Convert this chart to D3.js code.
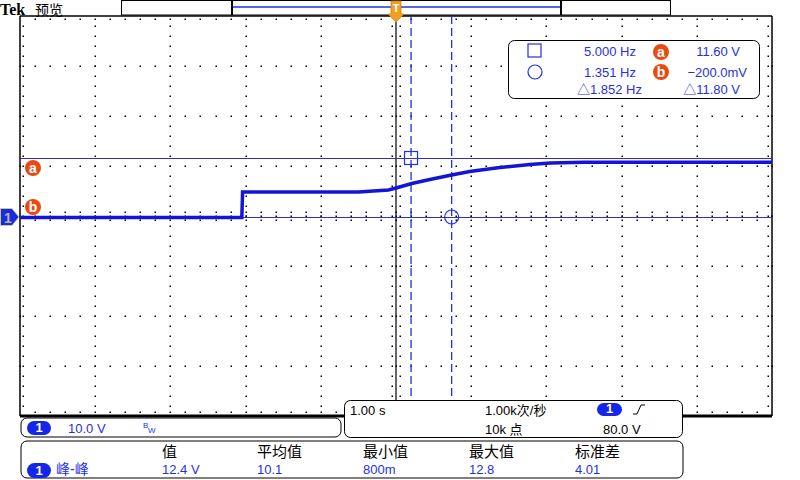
<!DOCTYPE html>
<html>
<head>
<meta charset="utf-8">
<script src="https://cdn.jsdelivr.net/npm/d3@7"></script>
<style>
  body { margin: 0; background: #fff; }
  svg { display: block; }
  text { font-family: "Liberation Sans", "Noto Sans CJK SC", sans-serif; }
</style>
</head>
<body>
<div id="scope"></div>
<script>
// screen dimensions
var W = 800, H = 480;
var gLeft = 20, gRight = 772, gTop = 16, gBottom = 416;

// trace: time (s) and volts
var traceT = [-5, -2.05, -2.04, -0.5, -0.1, 0, 0.21, 0.45, 0.74, 0.98, 1.38, 1.78, 2.05, 2.5, 5];
var traceV = [-0.3, -0.3, 4.8, 4.8, 5.2, 5.6, 6.5, 7.3, 8.2, 8.9, 9.7, 10.3, 10.6, 10.75, 10.75];

// cursors
var cursorTimes = [0.2, 0.74];        // 5.000 Hz, 1.351 Hz
var cursorVolts = [11.6, -0.2];       // a, b

// readout text
var readLeft = ["5.000 Hz", "1.351 Hz", "\u25B31.852 Hz"];
var readRight = ["11.60 V", "\u2212200.0mV", "\u25B311.80 V"];

// measurement table
var measHeads = ["值", "平均值", "最小值", "最大值", "标准差"];
var measVals = ["12.4 V", "10.1", "800m", "12.8", "4.01"];

var blue = "#1f30e6", trace = "#1414d8", orange = "#e84a10";

var svg = d3.select("#scope").append("svg")
    .attr("width", W).attr("height", H);

// time axis 1 s/div, 10 divisions; volts 10 V/div, 8 divisions
var x = d3.scaleLinear().domain([-5, 5]).range([gLeft, gRight]);
var y = d3.scaleLinear().domain([-40, 40]).range([gBottom, gTop]);

function dot(g, dx, dy) {
    g.append("rect").attr("x", Math.round(dx) - 0.5).attr("y", Math.round(dy) - 0.5)
        .attr("width", 1.5).attr("height", 1.5);
}

// grid dots
var grid = svg.append("g").attr("fill", "#000");
d3.range(-4, 4.01, 1).forEach(function(t) {
    if (t === 0) return;
    d3.range(-38, 38.01, 2).forEach(function(v) { dot(grid, x(t), y(v)); });
});
d3.range(-30, 30.1, 10).forEach(function(v) {
    d3.range(-5, 5.001, 0.2).forEach(function(t) { dot(grid, x(t), y(v)); });
});
// edge and center ticks
d3.range(-4.8, 4.801, 0.2).forEach(function(t) {
    dot(grid, x(t), gTop + 3);
    dot(grid, x(t), gBottom - 4);
    dot(grid, x(t), y(0) - 4);
    dot(grid, x(t), y(0) + 4);
});
d3.range(-38, 38.01, 2).forEach(function(v) {
    dot(grid, gLeft + 3, y(v));
    dot(grid, gRight - 4, y(v));
    dot(grid, x(0) - 4, y(v));
    dot(grid, x(0) + 4, y(v));
});

// center vertical line
svg.append("line").attr("x1", x(0)).attr("x2", x(0)).attr("y1", gTop).attr("y2", gBottom)
    .attr("stroke", "#000").attr("stroke-width", 1.2);

// frame
svg.append("line").attr("x1", gLeft).attr("x2", gRight).attr("y1", gTop).attr("y2", gTop).attr("stroke", "#000").attr("stroke-width", 1.5);
svg.append("line").attr("x1", gLeft).attr("x2", gLeft).attr("y1", gTop).attr("y2", gBottom).attr("stroke", "#000").attr("stroke-width", 1.5);
svg.append("line").attr("x1", gRight).attr("x2", gRight).attr("y1", gTop).attr("y2", gBottom).attr("stroke", "#000").attr("stroke-width", 1.5);
svg.append("line").attr("x1", gLeft).attr("x2", gRight).attr("y1", gBottom).attr("y2", gBottom).attr("stroke", "#000").attr("stroke-width", 3);

// horizontal cursors
cursorVolts.forEach(function(v) {
    svg.append("line").attr("x1", gLeft).attr("x2", gRight).attr("y1", Math.round(y(v)) + 0.5).attr("y2", Math.round(y(v)) + 0.5)
        .attr("stroke", "#2a30c8").attr("stroke-width", 1);
});
// vertical cursors, dashed
cursorTimes.forEach(function(t) {
    svg.append("line").attr("x1", x(t)).attr("x2", x(t)).attr("y1", gTop).attr("y2", gBottom)
        .attr("stroke", blue).attr("stroke-width", 1.3).attr("stroke-dasharray", "8,4");
});

// the trace
var pts = traceT.map(function(t, i) { return [x(t), y(traceV[i])]; });
svg.append("path").attr("d", d3.line()(pts))
    .attr("fill", "none").attr("stroke", trace).attr("stroke-width", 3.5);

// cursor markers
svg.append("rect").attr("x", x(cursorTimes[0]) - 6.5).attr("y", y(cursorVolts[0]) - 6.5)
    .attr("width", 13).attr("height", 13).attr("fill", "none").attr("stroke", blue).attr("stroke-width", 1.2);
svg.append("circle").attr("cx", x(cursorTimes[1])).attr("cy", y(cursorVolts[1])).attr("r", 7)
    .attr("fill", "none").attr("stroke", blue).attr("stroke-width", 1.2);

// a / b badges
function badge(cx, cy, s) {
    svg.append("circle").attr("cx", cx).attr("cy", cy).attr("r", 8).attr("fill", orange);
    svg.append("text").attr("x", cx).attr("y", cy + 4.5).attr("text-anchor", "middle")
        .attr("fill", "#fff").attr("font-size", 14).attr("font-weight", "bold").text(s);
}
badge(33, y(cursorVolts[0]) + 10, "a");
badge(33, y(cursorVolts[1]) - 10, "b");

// channel 1 ground marker
svg.append("path").attr("d", "M0.5,208.5 L12,208.5 L19,217 L12,225.5 L0.5,225.5 Z")
    .attr("fill", "#1a2ae0").attr("stroke", "#c8c890").attr("stroke-width", 1);
svg.append("text").attr("x", 8).attr("y", 222.5).attr("text-anchor", "middle")
    .attr("fill", "#b8b8a0").attr("font-size", 14).attr("font-weight", "bold").text("1");

// readout box
svg.append("rect").attr("x", 508.5).attr("y", 40.5).attr("width", 251).attr("height", 58).attr("rx", 6)
    .attr("fill", "#fff").attr("stroke", "#000").attr("stroke-width", 1);
svg.append("rect").attr("x", 528).attr("y", 44).attr("width", 13).attr("height", 13)
    .attr("fill", "none").attr("stroke", blue).attr("stroke-width", 1.2);
svg.append("circle").attr("cx", 535).attr("cy", 72).attr("r", 7)
    .attr("fill", "none").attr("stroke", blue).attr("stroke-width", 1.2);
var rowY = [56, 77, 94];
readLeft.forEach(function(s, i) {
    svg.append("text").attr("x", i === 2 ? 642 : 636).attr("y", rowY[i]).attr("text-anchor", "end")
        .attr("fill", blue).attr("font-size", 13).text(s);
});
readRight.forEach(function(s, i) {
    svg.append("text").attr("x", i === 1 ? 747 : 740).attr("y", rowY[i]).attr("text-anchor", "end")
        .attr("fill", blue).attr("font-size", 13).text(s);
});
badge(661, 52, "a");
badge(661, 72, "b");

// top bar
svg.append("text").attr("x", 0).attr("y", 15).style("font-family", "'Liberation Serif', serif")
    .attr("font-weight", "bold").attr("font-size", 16).text("Tek");
svg.append("text").attr("x", 35).attr("y", 15).style("font-family", "'Noto Sans CJK SC'")
    .attr("font-size", 14).text("预览");
svg.append("rect").attr("x", 121.5).attr("y", 0.5).attr("width", 549).attr("height", 14.5)
    .attr("fill", "#fff").attr("stroke", "#000").attr("stroke-width", 1);
svg.append("line").attr("x1", 232).attr("x2", 561).attr("y1", 7).attr("y2", 7).attr("stroke", blue).attr("stroke-width", 1.5);
[232, 561].forEach(function(bx) {
    svg.append("line").attr("x1", bx).attr("x2", bx).attr("y1", 0).attr("y2", 15).attr("stroke", "#000").attr("stroke-width", 2);
});
// trigger position marker
svg.append("path").attr("d", "M391,1 L401,1 L401,14 L404,14 L396,22 L388,14 L391,14 Z")
    .attr("fill", "#f0a020").attr("stroke", "#d88010").attr("stroke-width", 0.8);
svg.append("text").attr("x", 396).attr("y", 12).attr("text-anchor", "middle")
    .attr("fill", "#fff").attr("font-size", 11).attr("font-weight", "bold").text("T");

// pill "1"
function pill(px, py, w, h) {
    svg.append("rect").attr("x", px).attr("y", py).attr("width", w).attr("height", h).attr("rx", h / 2)
        .attr("fill", "#1626e8");
    svg.append("text").attr("x", px + w / 2).attr("y", py + h - 3).attr("text-anchor", "middle")
        .attr("fill", "#fff").attr("font-size", 13).attr("font-weight", "bold").text("1");
}

// channel box
svg.append("rect").attr("x", 21).attr("y", 418).attr("width", 320).attr("height", 19).attr("rx", 6)
    .attr("fill", "#fff").attr("stroke", "#000");
pill(27, 421, 24, 14);
svg.append("text").attr("x", 68).attr("y", 433).attr("fill", blue).attr("font-size", 13).text("10.0 V");
svg.append("text").attr("x", 143).attr("y", 428).attr("fill", blue).attr("font-size", 8).text("B");
svg.append("text").attr("x", 148).attr("y", 433).attr("fill", blue).attr("font-size", 8).text("W");

// timebase box
svg.append("rect").attr("x", 344.5).attr("y", 400.5).attr("width", 338).attr("height", 37).attr("rx", 6)
    .attr("fill", "#fff").attr("stroke", "#000");
svg.append("text").attr("x", 350).attr("y", 415).attr("font-size", 13).text("1.00 s");
svg.append("text").attr("x", 485).attr("y", 415).attr("font-size", 13).text("1.00k次/秒");
svg.append("text").attr("x", 485).attr("y", 434).attr("font-size", 13).text("10k 点");
pill(597, 403, 25, 13);
svg.append("path").attr("d", "M633,414 L637,414 L641,405 L645,405").attr("fill", "none")
    .attr("stroke", "#000").attr("stroke-width", 1);
svg.append("text").attr("x", 603).attr("y", 434).attr("font-size", 13).text("80.0 V");

// measurement box
svg.append("rect").attr("x", 21).attr("y", 441).attr("width", 662).attr("height", 37).attr("rx", 6)
    .attr("fill", "#fff").attr("stroke", "#000");
pill(27, 463, 24, 15);
svg.append("text").attr("x", 56).attr("y", 474).attr("fill", blue).attr("font-size", 14).text("峰-峰");
var colX = [162, 257, 363, 469, 575];
measHeads.forEach(function(s, i) {
    svg.append("text").attr("x", colX[i]).attr("y", 457).attr("font-size", 15).text(s);
});
measVals.forEach(function(s, i) {
    svg.append("text").attr("x", colX[i]).attr("y", 474).attr("fill", blue).attr("font-size", 13).text(s);
});
</script>
</body>
</html>
